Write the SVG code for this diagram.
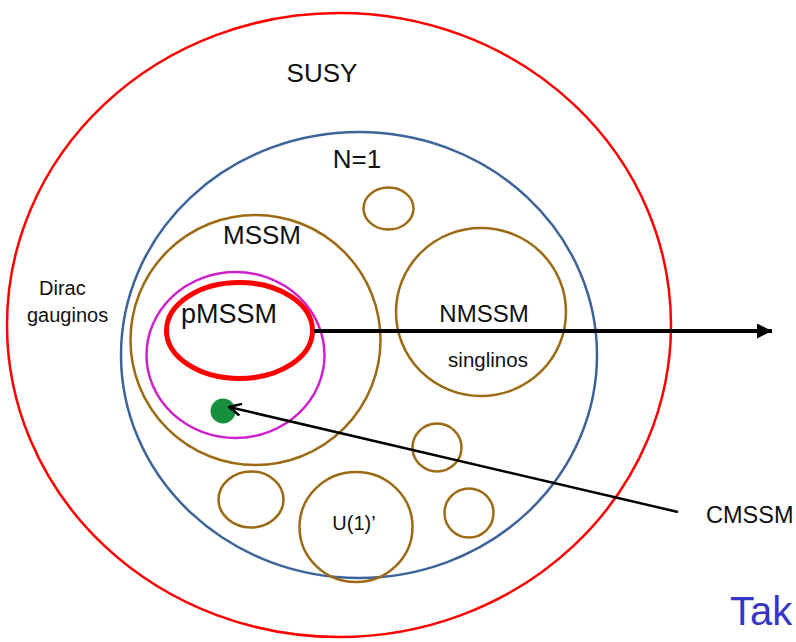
<svg xmlns="http://www.w3.org/2000/svg" width="796" height="642" viewBox="0 0 796 642">
<defs>
<style>
.t{font-family:"Liberation Sans",Arial,Helvetica,sans-serif;fill:#111;}
.br{fill:none;stroke:#9c6a14;stroke-width:2.5;}
</style>
<marker id="tri" viewBox="0 0 15 15" refX="15" refY="7.5" markerWidth="15" markerHeight="15" markerUnits="userSpaceOnUse" orient="auto">
<path d="M0,0 L15,7.5 L0,15 Z" fill="#000"/>
</marker>
<marker id="vee" viewBox="0 0 14 14" refX="13" refY="7" markerWidth="14" markerHeight="14" markerUnits="userSpaceOnUse" orient="auto">
<path d="M1,1 L13,7 L1,13" fill="none" stroke="#000" stroke-width="2.5"/>
</marker>
</defs>
<rect width="796" height="642" fill="#fff"/>
<g id="susy">
<ellipse cx="339" cy="325" rx="332" ry="312" fill="none" stroke="#ff0000" stroke-width="2.5"/>
<text class="t" x="322" y="82" font-size="26" text-anchor="middle">SUSY</text>
</g>
<g id="dirac">
<text class="t" x="39" y="295" font-size="20">Dirac</text>
<text class="t" x="27" y="322" font-size="20">gauginos</text>
</g>
<g id="n1">
<ellipse cx="359" cy="355" rx="238" ry="223" fill="none" stroke="#3d6499" stroke-width="2.5"/>
<text class="t" x="357" y="168" font-size="26" text-anchor="middle">N=1</text>
</g>
<g id="small1"><ellipse class="br" cx="388.5" cy="208.5" rx="25" ry="21"/></g>
<g id="mssm">
<circle class="br" cx="255.5" cy="340" r="125"/>
<text class="t" x="262" y="244" font-size="26" text-anchor="middle">MSSM</text>
</g>
<g id="nmssm">
<ellipse class="br" cx="481" cy="312" rx="85" ry="84"/>
<text class="t" x="484" y="322" font-size="24" text-anchor="middle">NMSSM</text>
<text class="t" x="488" y="367" font-size="20.5" text-anchor="middle">singlinos</text>
</g>
<g id="subset">
<ellipse cx="235.5" cy="355" rx="89" ry="83" fill="none" stroke="#cc22cc" stroke-width="2.5"/>
</g>
<g id="pmssm">
<ellipse cx="239.5" cy="330.5" rx="73" ry="48" fill="none" stroke="#ff0000" stroke-width="5"/>
<text class="t" x="181" y="323" font-size="27">pMSSM</text>
</g>
<g id="small2"><ellipse class="br" cx="437" cy="447.5" rx="24.5" ry="24"/></g>
<g id="small3"><ellipse class="br" cx="251" cy="499.5" rx="32.5" ry="28"/></g>
<g id="u1">
<ellipse class="br" cx="356" cy="527" rx="56.5" ry="55"/>
<text class="t" x="354" y="530" font-size="20" text-anchor="middle">U(1)’</text>
</g>
<g id="small4"><ellipse class="br" cx="469" cy="513" rx="24.5" ry="24.5"/></g>
<g id="cmssm">
<circle cx="223" cy="411" r="12.5" fill="#168f3e"/>
<text class="t" x="706" y="523" font-size="23.5">CMSSM</text>
</g>
<g id="connectors">
<line x1="314" y1="331" x2="772" y2="331" stroke="#000" stroke-width="4" marker-end="url(#tri)"/>
<line x1="678" y1="512" x2="229" y2="407" stroke="#000" stroke-width="2.5" marker-end="url(#vee)"/>
</g>
<text x="730" y="625" font-family="Liberation Sans, Arial, sans-serif" font-size="40" fill="#3535c8">Tak</text>
</svg>
